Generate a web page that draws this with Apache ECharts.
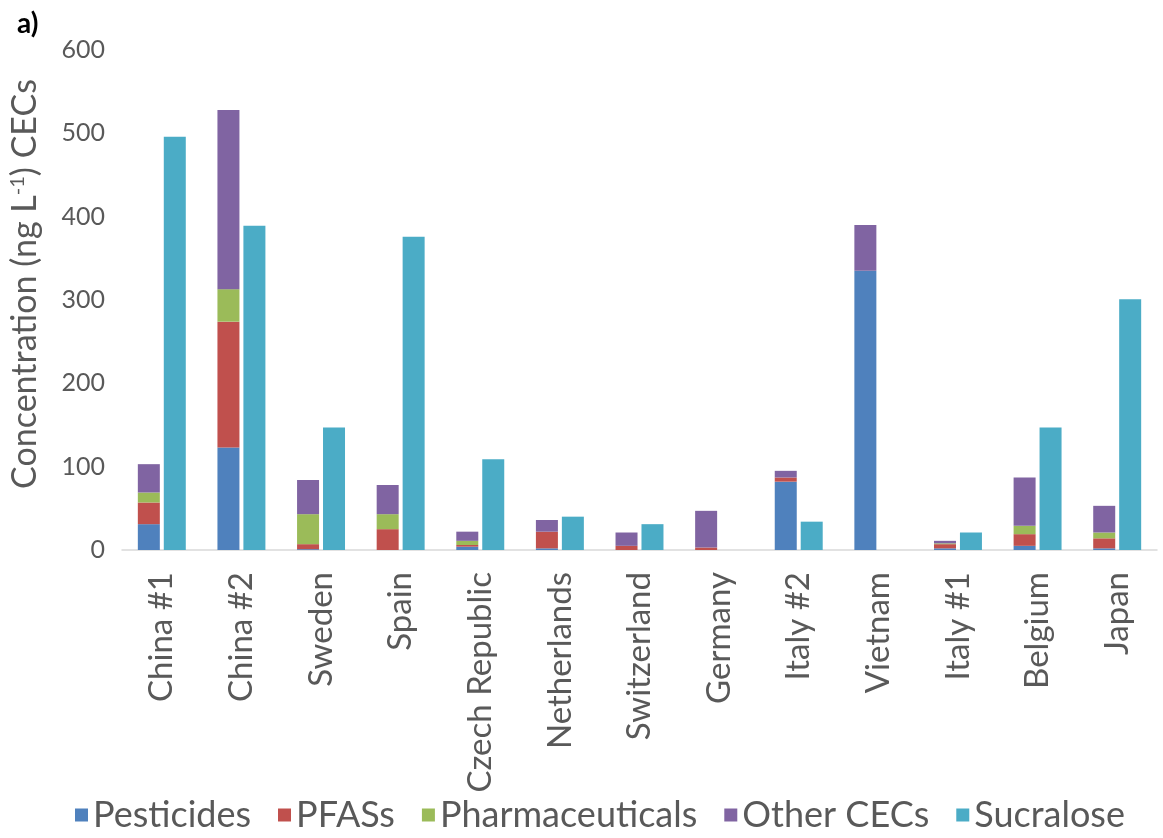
<!doctype html>
<html>
<head>
    <meta charset="UTF-8">
    <title>CECs</title>
    <script src="https://cdn.jsdelivr.net/npm/echarts@6/dist/echarts.min.js"></script>
    <style>
        html, body { margin: 0; padding: 0; background: #fff; }
        #main { width: 1163px; height: 838px; }
    </style>
</head>
<body>
<div id="main"></div>
<script>
    var categories = ['China #1', 'China #2', 'Sweden', 'Spain', 'Czech Republic', 'Netherlands',
        'Switzerland', 'Germany', 'Italy #2', 'Vietnam', 'Italy #1', 'Belgium', 'Japan'];
    var pesticides = [31, 123, 1, 0, 4, 2, 0, 0, 82, 335, 2, 5, 2];
    var pfass = [26, 151, 6, 25, 2, 20, 5, 3, 5, 0, 5, 14, 12];
    var pharmaceuticals = [12, 39, 36, 18, 5, 0, 0, 0, 0, 0, 1, 10, 7];
    var otherCecs = [34, 215, 41, 35, 11, 14, 16, 44, 8, 55, 3, 58, 32];
    var sucralose = [496, 389, 147, 376, 109, 40, 31, 0, 34, 0, 21, 147, 301];

    var font = 'Lato, "Open Sans", sans-serif';
    var grey = '#595959';

    var myChart = echarts.init(document.getElementById('main'));

    var stacked = function (name, data, color) {
        return {
            name: name,
            type: 'bar',
            stack: 'cec',
            data: data,
            barWidth: 22,
            barGap: '18%',
            itemStyle: { color: color },
            emphasis: { disabled: true }
        };
    };

    var option = {
        animation: false,
        textStyle: { fontFamily: font },
        graphic: [{
            type: 'text',
            left: 17,
            top: 10,
            style: { text: 'a)', font: 'bold 28px ' + font, fill: '#000' }
        }],
        legend: {
            left: 70,
            bottom: 0,
            itemWidth: 13,
            itemHeight: 13,
            itemGap: 27,
            icon: 'rect',
            textStyle: { fontSize: 36, color: grey, fontFamily: font },
            data: ['Pesticides', 'PFASs', 'Pharmaceuticals', 'Other CECs', 'Sucralose']
        },
        grid: {
            left: 119,
            right: 6,
            top: 50,
            bottom: 288
        },
        xAxis: {
            type: 'category',
            data: categories,
            axisLine: { lineStyle: { color: '#d9d9d9', width: 1.5 } },
            axisTick: { show: false },
            axisLabel: {
                rotate: 90,
                interval: 0,
                margin: 22,
                fontSize: 33,
                color: grey,
                fontFamily: font
            }
        },
        yAxis: {
            type: 'value',
            min: 0,
            max: 600,
            interval: 100,
            splitLine: { show: false },
            axisLine: { show: false },
            axisTick: { show: false },
            axisLabel: { fontSize: 25, color: grey, margin: 17, fontFamily: font },
            name: '{a|Concentration (ng L}{b|-1}{a|) CECs}',
            nameLocation: 'middle',
            nameGap: 80,
            nameTextStyle: {
                padding: [0, 0, 0, 32],
                rich: {
                    a: { fontSize: 34, color: grey, fontFamily: font },
                    b: { fontSize: 20, color: grey, fontFamily: font, verticalAlign: 'top', padding: [0, 0, 14, 0] }
                }
            }
        },
        series: [
            stacked('Pesticides', pesticides, '#4F81BD'),
            stacked('PFASs', pfass, '#C0504D'),
            stacked('Pharmaceuticals', pharmaceuticals, '#9BBB59'),
            stacked('Other CECs', otherCecs, '#8064A2'),
            {
                name: 'Sucralose',
                type: 'bar',
                data: sucralose,
                barWidth: 22,
                barGap: '18%',
                itemStyle: { color: '#4BACC6' },
                emphasis: { disabled: true }
            }
        ]
    };

    myChart.setOption(option);
</script>
</body>
</html>
